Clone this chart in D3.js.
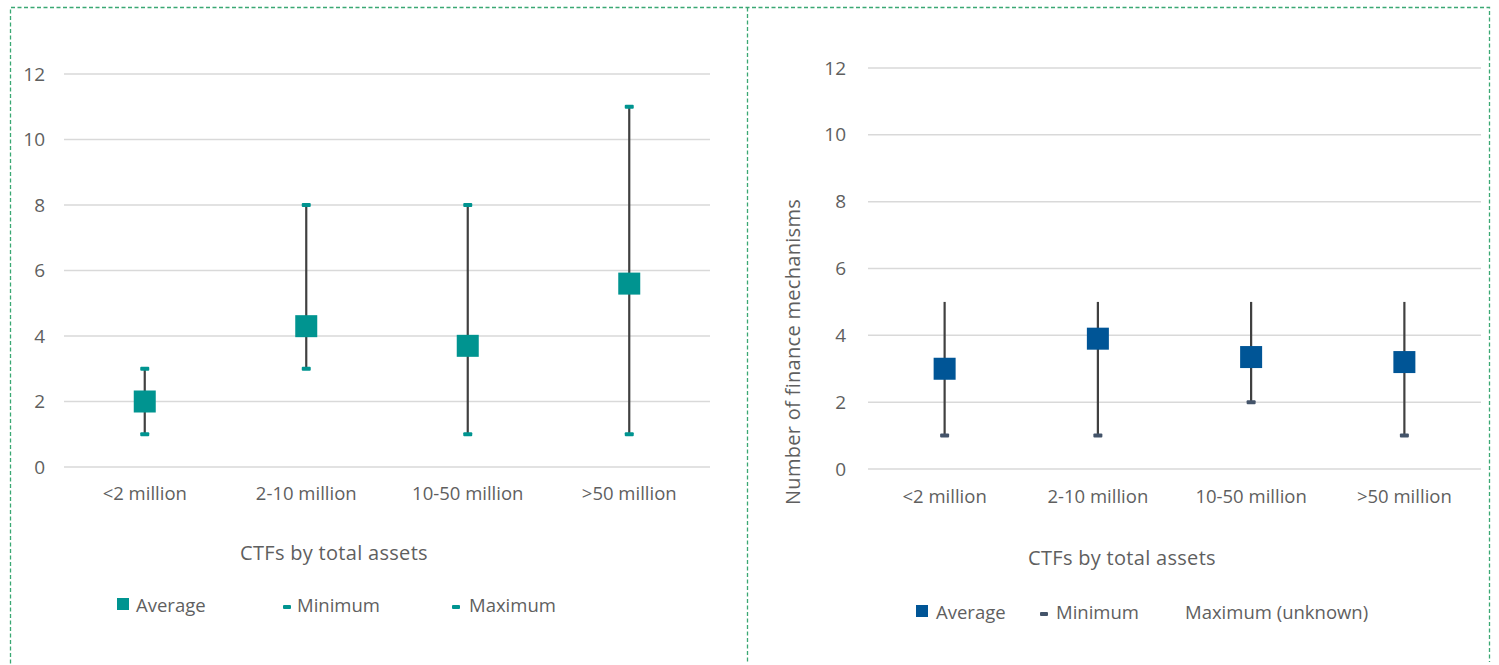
<!DOCTYPE html>
<html>
<head>
<meta charset="utf-8">
<script src="https://cdn.jsdelivr.net/npm/d3@7"></script>
<style>
  body { margin: 0; background: #fff; }
  text { font-family: "Open Sans", Lato, sans-serif; fill: #5f5f5f; font-weight: 400; }
</style>
</head>
<body>
<svg id="chart" width="1499" height="665"></svg>
<script>
// ---------- data ----------
const categories = ["<2 million", "2-10 million", "10-50 million", ">50 million"];
const yTicks = [0, 2, 4, 6, 8, 10, 12];

// left panel: by total assets
const leftAvg = [2.0, 4.3, 3.7, 5.6];
const leftMin = [1, 3, 1, 1];
const leftMax = [3, 8, 8, 11];

// right panel: number of finance mechanisms
const rightAvg = [3.0, 3.9, 3.35, 3.2];
const rightMin = [1, 1, 2, 1];
const rightTop = [5, 5, 5, 5]; // max unknown, line drawn to 5

const svg = d3.select("#chart");

// dashed panel borders
const border = svg.append("g")
  .attr("fill", "none")
  .attr("stroke", "#3aa873")
  .attr("stroke-width", 1.3)
  .attr("stroke-dasharray", "4,2.5");
border.append("path").attr("d", "M10.5,670 V7.5 H1489.5 V662");
border.append("path").attr("d", "M747.5,7.5 V662");

function panel(opts) {
  const x = d3.scaleBand().domain(categories).range([opts.x0, opts.x1]);
  const y = d3.scaleLinear().domain([0, 12]).range([opts.y0, opts.y12]);
  const g = svg.append("g");

  // gridlines
  g.selectAll(".grid")
    .data(yTicks)
    .enter()
    .append("line")
    .attr("x1", opts.x0)
    .attr("x2", opts.x1)
    .attr("y1", (d) => y(d))
    .attr("y2", (d) => y(d))
    .attr("stroke", "#d9d9d9")
    .attr("stroke-width", 1.5);

  // y tick labels
  g.selectAll(".ytick")
    .data(yTicks)
    .enter()
    .append("text")
    .attr("x", opts.tickX)
    .attr("y", (d) => y(d))
    .attr("dy", "0.35em")
    .attr("text-anchor", "end")
    .style("font-size", "19px")
    .text((d) => d);

  // x labels
  g.selectAll(".xtick")
    .data(categories)
    .enter()
    .append("text")
    .attr("x", (d) => x(d) + x.bandwidth() / 2)
    .attr("y", opts.xLabelY)
    .attr("text-anchor", "middle")
    .style("font-size", "18.5px")
    .text((d) => d);

  // axis title
  g.append("text")
    .attr("x", opts.titleX)
    .attr("y", opts.titleY)
    .attr("text-anchor", "middle")
    .style("font-size", "20px")
    .style("letter-spacing", "0.3px")
    .text("CTFs by total assets");

  const cx = (i) => x(categories[i]) + x.bandwidth() / 2;

  // whiskers
  g.selectAll(".whisker")
    .data(opts.avg)
    .enter()
    .append("line")
    .attr("x1", (d, i) => cx(i))
    .attr("x2", (d, i) => cx(i))
    .attr("y1", (d, i) => y(opts.min[i]))
    .attr("y2", (d, i) => y(opts.top[i]))
    .attr("stroke", "#404040")
    .attr("stroke-width", 2.2);

  // min caps
  g.selectAll(".minCap")
    .data(opts.min)
    .enter()
    .append("rect")
    .attr("x", (d, i) => cx(i) - 4.5)
    .attr("y", (d) => y(d) - 2)
    .attr("width", 9)
    .attr("height", 4)
    .attr("rx", 1)
    .attr("fill", opts.capColor);

  // max caps
  if (opts.max) {
    g.selectAll(".maxCap")
      .data(opts.max)
      .enter()
      .append("rect")
      .attr("x", (d, i) => cx(i) - 4.5)
      .attr("y", (d) => y(d) - 2)
      .attr("width", 9)
      .attr("height", 4)
      .attr("rx", 1)
      .attr("fill", opts.capColor);
  }

  // average markers
  g.selectAll(".avg")
    .data(opts.avg)
    .enter()
    .append("rect")
    .attr("x", (d, i) => cx(i) - 11)
    .attr("y", (d) => y(d) - 11)
    .attr("width", 22)
    .attr("height", 22)
    .attr("fill", opts.color);

  // legend
  const lg = g.append("g").attr("transform", "translate(0," + opts.legendY + ")");
  opts.legend.forEach((item) => {
    if (item.type === "square") {
      lg.append("rect")
        .attr("x", item.x)
        .attr("y", -8)
        .attr("width", 12)
        .attr("height", 12)
        .attr("fill", opts.color);
    } else if (item.type === "dash") {
      lg.append("rect")
        .attr("x", item.x)
        .attr("y", -1)
        .attr("width", 8)
        .attr("height", 4)
        .attr("rx", 1)
        .attr("fill", opts.capColor);
    }
    lg.append("text")
      .attr("x", item.tx)
      .attr("y", 0)
      .attr("dy", "0.35em")
      .style("font-size", "18.5px")
      .text(item.label);
  });

  return { x, y };
}

panel({
  x0: 64, x1: 710, y0: 467, y12: 74,
  tickX: 45, xLabelY: 500, titleX: 334, titleY: 560,
  avg: leftAvg, min: leftMin, max: leftMax, top: leftMax,
  color: "#009490", capColor: "#009490",
  legendY: 606,
  legend: [
    { type: "square", x: 117, tx: 136, label: "Average" },
    { type: "dash", x: 283, tx: 297, label: "Minimum" },
    { type: "dash", x: 452, tx: 469, label: "Maximum" }
  ]
});

panel({
  x0: 868, x1: 1481, y0: 469, y12: 68,
  tickX: 846, xLabelY: 503, titleX: 1122, titleY: 565,
  avg: rightAvg, min: rightMin, max: null, top: rightTop,
  color: "#005596", capColor: "#44546a",
  legendY: 613,
  legend: [
    { type: "square", x: 916, tx: 936, label: "Average" },
    { type: "dash", x: 1040, tx: 1056, label: "Minimum" },
    { type: "none", x: 0, tx: 1185, label: "Maximum (unknown)" }
  ]
});

// right y-axis title
svg.append("text")
  .attr("transform", "translate(800,352) rotate(-90)")
  .attr("text-anchor", "middle")
  .style("font-size", "20px")
  .style("letter-spacing", "0.3px")
  .text("Number of finance mechanisms");
</script>
</body>
</html>
